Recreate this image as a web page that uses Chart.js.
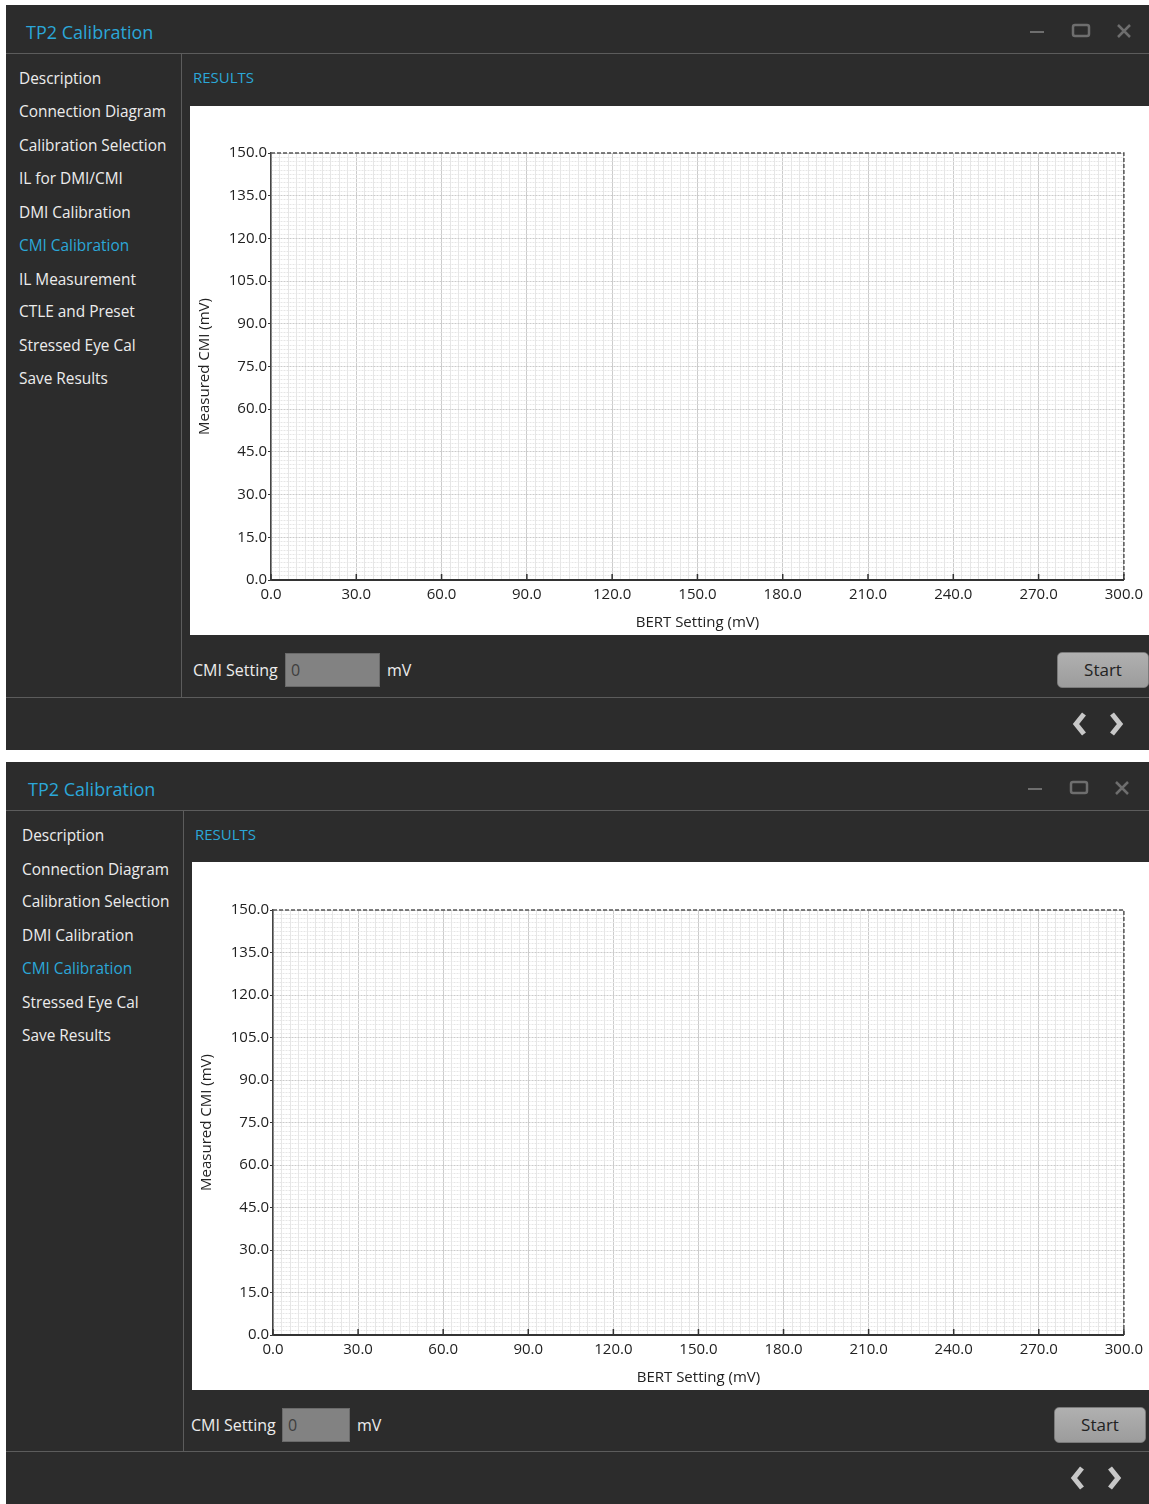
<!DOCTYPE html>
<html>
<head>
<meta charset="utf-8">
<script src="https://cdn.jsdelivr.net/npm/chart.js@4.4.1/dist/chart.umd.min.js"></script>
<style>
body { margin: 0; background: #fff; width: 1149px; height: 1504px; overflow: hidden; position: relative; font-family: "Open Sans", "Noto Sans", sans-serif; }
.win { position: absolute; left: 6px; width: 1143px; background: #2c2c2c; overflow: hidden; }
.abs { position: absolute; white-space: nowrap; }
.hline { position: absolute; left: 0; width: 100%; height: 1px; background: #5c5c5c; }
.vline { position: absolute; width: 1px; background: #5c5c5c; }
.title { color: #2ba7d8; font-size: 18px; line-height: 24px; }
.item { color: #ececec; font-size: 15.4px; line-height: 22px; }
.item.on { color: #2ba7d8; }
.results { color: #2ba7d8; font-size: 15px; line-height: 20px; }
.box { position: absolute; background: #fff; }
.lbl { color: #ececec; font-size: 16px; line-height: 22px; }
.input { position: absolute; background: #828282; border: 1px solid #6a6a6a; box-sizing: border-box; color: #3e3e3e; font-size: 16px; padding-left: 5px; }
.start { position: absolute; background: linear-gradient(#b0b0b0, #9c9c9c); border: 1px solid #7a7a7a; border-radius: 5px; box-sizing: border-box; color: #222; font-size: 17px; text-align: center; }
</style>
</head>
<body>
<script>
// axis ticks (labelled ones) and the (empty) measured series
const xTickValues = [0, 30, 60, 90, 120, 150, 180, 210, 240, 270, 300];
const yTickValues = [0, 15, 30, 45, 60, 75, 90, 105, 120, 135, 150];
const bertSetting = [];
const measuredCmi = [];

const menuTop = ['Description', 'Connection Diagram', 'Calibration Selection', 'IL for DMI/CMI', 'DMI Calibration',
  'CMI Calibration', 'IL Measurement', 'CTLE and Preset', 'Stressed Eye Cal', 'Save Results'];
const menuBottom = ['Description', 'Connection Diagram', 'Calibration Selection', 'DMI Calibration',
  'CMI Calibration', 'Stressed Eye Cal', 'Save Results'];
const activeItem = 'CMI Calibration';

function isMajor(v, step) {
  return Math.abs(v / step - Math.round(v / step)) < 1e-6;
}

function el(parent, cls, css, html) {
  const d = document.createElement('div');
  d.className = cls;
  Object.assign(d.style, css);
  if (html !== undefined) d.innerHTML = html;
  parent.appendChild(d);
  return d;
}

const frame = {
  id: 'frame',
  afterDraw(chart) {
    const {ctx, chartArea: a} = chart;
    const x = chart.scales.x;
    ctx.save();
    ctx.strokeStyle = '#555';
    ctx.lineWidth = 1.5;
    ctx.setLineDash([4, 2]);
    ctx.beginPath();
    ctx.moveTo(a.left, a.top);
    ctx.lineTo(a.right, a.top);
    ctx.lineTo(a.right, a.bottom);
    ctx.stroke();
    ctx.setLineDash([]);
    ctx.strokeStyle = '#333';
    ctx.lineWidth = 1.5;
    xTickValues.forEach(v => {
      const px = x.getPixelForValue(v);
      ctx.beginPath();
      ctx.moveTo(px, a.bottom);
      ctx.lineTo(px, a.bottom - 6);
      ctx.stroke();
    });
    ctx.restore();
  }
};

function makeChart(canvas, pad) {
  const font = {family: '"Open Sans", sans-serif', size: 15};
  return new Chart(canvas, {
    type: 'scatter',
    data: {
      datasets: [{
        label: 'Measured CMI',
        data: bertSetting.map((b, i) => ({x: b, y: measuredCmi[i]})),
        borderColor: '#1f77b4',
        backgroundColor: '#1f77b4'
      }]
    },
    options: {
      responsive: false,
      animation: false,
      layout: {padding: {top: pad.top, right: pad.right, left: 0, bottom: 0}},
      plugins: {legend: {display: false}, tooltip: {enabled: false}},
      scales: {
        x: {
          type: 'linear',
          min: xTickValues[0],
          max: xTickValues[xTickValues.length - 1],
          afterFit: s => { s.height = 55; },
          title: {display: true, text: 'BERT Setting (mV)', color: '#222', font: font, padding: {top: 4, bottom: 3}},
          ticks: {
            stepSize: 3, autoSkip: false, maxRotation: 0, maxTicksLimit: 500,
            color: '#222', font: font, padding: 6,
            callback: v => xTickValues.some(t => Math.abs(t - v) < 1e-6) ? v.toFixed(1) : ''
          },
          grid: {
            drawTicks: false,
            color: c => isMajor(c.tick.value, 30) ? '#cbcbcb' : '#e6e6e6'
          },
          border: {color: '#333', width: 2}
        },
        y: {
          type: 'linear',
          min: yTickValues[0],
          max: yTickValues[yTickValues.length - 1],
          afterFit: s => { s.width = 81; },
          title: {display: true, text: 'Measured CMI (mV)', color: '#222', font: font, padding: {top: 6, bottom: 0}},
          ticks: {
            stepSize: 1.5, autoSkip: false, maxTicksLimit: 500,
            color: '#222', font: font, padding: 1,
            callback: v => yTickValues.some(t => Math.abs(t - v) < 1e-6) ? v.toFixed(1) : ''
          },
          grid: {
            tickLength: 3,
            color: c => isMajor(c.tick.value, 15) ? '#cbcbcb' : '#e6e6e6',
            tickColor: c => isMajor(c.tick.value, 15) ? '#333' : 'rgba(0,0,0,0)'
          },
          border: {color: '#444', width: 1.5, dash: [2, 1]}
        }
      }
    },
    plugins: [frame]
  });
}

function makeWindow(w) {
  const win = el(document.body, 'win', {top: w.top + 'px', height: w.height + 'px'});
  el(win, 'abs title', {left: w.titleX + 'px', top: '15px'}, 'TP2 Calibration');
  // window buttons
  el(win, 'abs', {left: w.iconX + 'px', top: '14px'},
    '<svg width="110" height="26"><line x1="0" y1="13" x2="14" y2="13" stroke="#6e6e6e" stroke-width="2"/>' +
    '<rect x="43" y="6" width="16" height="11" rx="2" fill="none" stroke="#6e6e6e" stroke-width="2.5"/>' +
    '<path d="M88 6 L100 18 M100 6 L88 18" stroke="#6e6e6e" stroke-width="2.5"/></svg>');
  el(win, 'hline', {top: '48px'});
  el(win, 'vline', {left: w.sideX + 'px', top: '48px', height: (w.footY - 48) + 'px'});
  w.menu.forEach((t, i) => {
    el(win, 'abs item' + (t === activeItem ? ' on' : ''),
      {left: w.menuX + 'px', top: (w.menuY[i] - 11) + 'px'}, t);
  });
  el(win, 'abs results', {left: w.resX + 'px', top: '62px'}, 'RESULTS');
  const box = el(win, 'box', {left: w.boxX + 'px', top: w.boxY + 'px', width: w.boxW + 'px', height: w.boxH + 'px'});
  const cv = document.createElement('canvas');
  cv.width = w.boxW; cv.height = w.boxH;
  cv.style.width = w.boxW + 'px'; cv.style.height = w.boxH + 'px';
  box.appendChild(cv);
  makeChart(cv, {top: w.plotTop, right: w.plotRight});
  el(win, 'abs lbl', {left: w.rowX + 'px', top: (w.rowY - 11) + 'px'}, 'CMI Setting');
  el(win, 'input', {left: w.inX + 'px', top: (w.rowY - 17) + 'px', width: w.inW + 'px', height: '34px', lineHeight: '32px'}, '0');
  el(win, 'abs lbl', {left: w.mvX + 'px', top: (w.rowY - 11) + 'px'}, 'mV');
  el(win, 'start', {left: w.startX + 'px', top: (w.rowY - 18) + 'px', width: w.startW + 'px', height: '36px', lineHeight: '33px'}, 'Start');
  el(win, 'hline', {top: w.footY + 'px'});
  el(win, 'abs', {left: (w.arrowX - 8) + 'px', top: (w.footY + 14) + 'px'},
    '<svg width="56" height="26"><polyline points="13,3 5,13 13,23" fill="none" stroke="#c8c8c8" stroke-width="5"/>' +
    '<polyline points="41,3 49,13 41,23" fill="none" stroke="#c8c8c8" stroke-width="5"/></svg>');
  el(win, 'abs', {left: '1135px', top: (w.height - 8) + 'px'},
    '<svg width="8" height="8"><rect x="5" y="1" width="2" height="2" fill="#888"/><rect x="2" y="4" width="2" height="2" fill="#888"/>' +
    '<rect x="5" y="4" width="2" height="2" fill="#888"/></svg>');
}

makeWindow({
  top: 5, height: 745, titleX: 20, iconX: 1024, sideX: 175, footY: 692,
  menu: menuTop, menuX: 13, menuY: [74, 107, 141, 174, 208, 241, 275, 307, 341, 374],
  resX: 187, boxX: 184, boxY: 101, boxW: 959, boxH: 529, plotTop: 47, plotRight: 23,
  rowX: 187, rowY: 665, inX: 279, inW: 95, mvX: 381, startX: 1051, startW: 92, arrowX: 1073
});
makeWindow({
  top: 762, height: 742, titleX: 22, iconX: 1022, sideX: 177, footY: 689,
  menu: menuBottom, menuX: 16, menuY: [74, 108, 140, 174, 207, 241, 274],
  resX: 189, boxX: 186, boxY: 100, boxW: 957, boxH: 528, plotTop: 48, plotRight: 25,
  rowX: 185, rowY: 663, inX: 276, inW: 68, mvX: 351, startX: 1048, startW: 92, arrowX: 1071
});
</script>
</body>
</html>
